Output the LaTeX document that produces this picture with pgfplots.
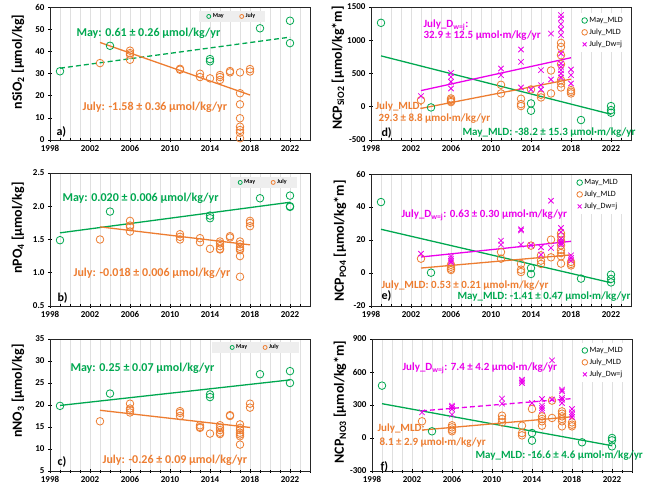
\documentclass[border=0pt]{standalone}
\usepackage{pgfplots}
\pgfplotsset{compat=1.18}
\usepackage{fontspec}
\setmainfont{Carlito}
\definecolor{mygreen}{RGB}{0,168,80}
\definecolor{myorange}{RGB}{237,125,49}
\definecolor{mymag}{RGB}{235,0,235}
\newcommand\annL{\fontsize{12}{14}\selectfont\bfseries}
\newcommand\annR{\fontsize{11}{13}\selectfont\bfseries}
\newcommand\lab{\fontsize{14}{16}\selectfont\bfseries}
\pgfplotsset{
  panel/.style={scale only axis, width=260pt, height=133pt,
    xmin=1998, xmax=2024, xtick={1998,2002,...,2022}, minor xtick={1998,...,2024},
    xmajorgrids, xminorgrids, grid style={gray!25, line width=0.4pt}, minor grid style={gray!25, line width=0.4pt},
    tick align=center, xtick pos=bottom, ytick pos=left,
    major tick length=4pt, minor tick length=3pt,
    tick style={black, line width=0.6pt}, axis line style={black!85, line width=0.7pt},
    ticklabel style={font=\fontsize{9}{10}\selectfont\bfseries},
    /pgf/number format/assume math mode=true, /pgf/number format/1000 sep={},
    clip=false},
  gcirc/.style={only marks, mark=o, mark size=3.8pt, mygreen, mark options={line width=0.8pt}},
  ocirc/.style={only marks, mark=o, mark size=3.8pt, myorange, mark options={line width=0.8pt}},
  mx/.style={only marks, mark=x, mark size=3.8pt, mymag, mark options={line width=0.8pt}},
  legL/.style={legend columns=2, legend style={fill=gray!13, draw=none, font=\fontsize{6}{7}\selectfont\bfseries, inner xsep=8pt, inner ysep=1pt, /tikz/every even column/.append style={column sep=14pt}}, legend image post style={mark size=2pt}},
  legR/.style={legend cell align=left, legend style={draw=none, fill=white, font=\fontsize{8}{9}\selectfont, row sep=1pt, anchor=north east}, legend image post style={mark size=2.8pt}},
  trend/.style={line width=1.3pt, forget plot},
  dsh/.style={dash pattern=on 5pt off 3pt},
}
\begin{document}
\begin{tikzpicture}[x=1pt,y=1pt]
\useasboundingbox (0,0) rectangle (649,488);
% ---------- a ----------
\begin{axis}[panel, at={(50pt,348pt)}, anchor=south west, ymin=0, ymax=60, ytick={0,10,...,60}, legL, legend style={at={(0.70,0.929)}, anchor=center}]
\addplot[gcirc] coordinates {(1999,31)(2004,42.5)(2014,36.5)(2014,35.5)(2019,50.4)(2022,53.8)(2022,43.7)};
\addlegendentry{May}
\addplot[ocirc] coordinates {(2003,34.7)(2006,40.3)(2006,39.2)(2006,38.5)(2006,36.2)(2011,32.1)(2011,31.7)(2013,29.9)(2013,28.4)(2014,27.8)(2015,29.3)(2015,28.4)(2015,27.1)(2016,31.1)(2016,30.5)(2017,30.5)(2017,21.1)(2017,16.1)(2017,9.8)(2017,6)(2017,4.5)(2017,3.3)(2017,0.8)(2018,32)(2018,30.9)};
\addlegendentry{July}
\addplot[mygreen, trend, dsh] coordinates {(1999,32.4)(2022,46.4)};
\addplot[myorange, trend] coordinates {(2003,44.0)(2018,20.3)};
\end{axis}
% ---------- b ----------
\begin{axis}[panel, at={(50pt,182pt)}, anchor=south west, ymin=0.5, ymax=2.5, ytick={0.5,1.0,...,2.5}, yticklabel style={/pgf/number format/fixed, /pgf/number format/fixed zerofill, /pgf/number format/precision=1}, legL, legend style={at={(0.821,0.929)}, anchor=center}]
\addplot[gcirc] coordinates {(1999,1.49)(2004,1.92)(2014,1.86)(2014,1.82)(2019,2.12)(2022,2.16)(2022,2.00)(2022,1.99)};
\addlegendentry{May}
\addplot[ocirc] coordinates {(2003,1.50)(2006,1.78)(2006,1.71)(2006,1.69)(2006,1.62)(2011,1.58)(2011,1.54)(2011,1.50)(2013,1.52)(2013,1.46)(2014,1.36)(2015,1.47)(2015,1.44)(2015,1.40)(2015,1.36)(2015,1.35)(2016,1.55)(2016,1.53)(2017,1.47)(2017,1.43)(2017,1.39)(2017,1.36)(2017,1.34)(2017,1.25)(2017,0.94)(2018,1.78)(2018,1.75)(2018,1.70)};
\addlegendentry{July}
\addplot[mygreen, trend] coordinates {(1999,1.60)(2022,2.06)};
\addplot[myorange, trend] coordinates {(2003,1.69)(2018,1.42)};
\end{axis}
% ---------- c ----------
\begin{axis}[panel, at={(50pt,17pt)}, anchor=south west, height=132pt, ymin=5, ymax=35, ytick={5,10,...,35}, legL, legend style={at={(0.79,0.936)}, anchor=center, inner xsep=18pt}]
\addplot[gcirc] coordinates {(1999,19.8)(2004,22.6)(2014,22.4)(2014,21.8)(2019,27.0)(2022,27.7)(2022,25.0)};
\addlegendentry{May}
\addplot[ocirc] coordinates {(2003,16.3)(2006,20.3)(2006,19.2)(2006,18.8)(2006,18.3)(2011,18.6)(2011,18.2)(2011,17.5)(2013,15.4)(2013,15.0)(2013,14.8)(2014,13.5)(2015,15.4)(2015,14.8)(2015,14.3)(2015,13.7)(2015,13.4)(2016,17.7)(2016,17.5)(2017,15.6)(2017,14.8)(2017,14.3)(2017,13.7)(2017,13.3)(2017,12.9)(2017,11.0)(2018,20.3)(2018,19.4)};
\addlegendentry{July}
\addplot[mygreen, trend] coordinates {(1999,19.9)(2022,25.7)};
\addplot[myorange, trend] coordinates {(2003,18.8)(2018,14.9)};
\end{axis}
% ---------- d ----------
\begin{axis}[panel, at={(371pt,348pt)}, anchor=south west, ymin=-500, ymax=1500, ytick={-500,0,...,1500}, legR, legend style={at={(0.988,0.955)}}]
\addplot[gcirc] coordinates {(1999,1262)(2004,-10)(2014,50)(2014,-60)(2019,-200)(2022,10)(2022,-50)(2022,-90)};
\addlegendentry{May\_MLD}
\addplot[ocirc] coordinates {(2003,100)(2006,125)(2006,105)(2006,85)(2006,70)(2011,330)(2011,200)(2013,120)(2013,40)(2013,10)(2014,260)(2015,180)(2015,140)(2016,545)(2016,200)(2017,960)(2017,900)(2017,775)(2017,640)(2017,400)(2017,350)(2017,290)(2018,250)(2018,225)(2018,200)};
\addlegendentry{July\_MLD}
\addplot[mx] coordinates {(2003,160)(2006,510)(2006,450)(2006,375)(2006,275)(2011,575)(2011,475)(2013,860)(2013,675)(2013,290)(2014,260)(2015,550)(2015,325)(2015,260)(2016,1100)(2016,410)(2017,1378)(2017,1328)(2017,1242)(2017,1162)(2017,1077)(2017,800)(2017,650)(2017,600)(2017,550)(2017,500)(2017,440)(2018,560)(2018,475)(2018,350)};
\addlegendentry{July\_Dw=j}
\addplot[mygreen, trend] coordinates {(1999,765)(2022,-113)};
\addplot[myorange, trend] coordinates {(2003,-25)(2018,415)};
\addplot[mymag, trend] coordinates {(2003,243)(2018,737)};
\end{axis}
% ---------- e ----------
\begin{axis}[panel, at={(371pt,182pt)}, anchor=south west, height=132pt, ymin=-20, ymax=60, ytick={-20,0,...,60}, legR, legend style={at={(0.969,0.992)}}]
\addplot[gcirc] coordinates {(1999,43)(2004,0.2)(2014,3)(2014,-0.6)(2019,-3.4)(2022,-1)(2022,-3.6)(2022,-5.7)};
\addlegendentry{May\_MLD}
\addplot[ocirc] coordinates {(2003,8.7)(2006,5)(2006,3.8)(2006,2.6)(2006,1.8)(2011,12.7)(2011,8.7)(2013,5.5)(2013,2)(2013,0.6)(2014,16.6)(2015,10.7)(2015,7.5)(2015,5.5)(2016,20.2)(2016,9.5)(2017,24)(2017,22.2)(2017,19.6)(2017,16.8)(2017,14.1)(2017,12.1)(2017,10.1)(2017,5.7)(2018,6.7)(2018,5.5)(2018,4.6)};
\addlegendentry{July\_MLD}
\addplot[mx] coordinates {(2003,11.7)(2006,10.1)(2006,8.7)(2006,7.5)(2006,6.5)(2011,19.6)(2011,17.2)(2013,26.5)(2013,25.8)(2013,17.2)(2014,16.8)(2015,15.6)(2015,11.1)(2016,43.8)(2016,15.2)(2017,27.3)(2017,24.8)(2017,20.8)(2017,19.2)(2017,18.2)(2017,17.2)(2018,10.7)(2018,9.1)(2018,7.5)};
\addlegendentry{July\_Dw=j}
\addplot[mygreen, trend] coordinates {(1999,26.5)(2022,-5.9)};
\addplot[myorange, trend] coordinates {(2003,3.0)(2018,11.0)};
\addplot[mymag, trend] coordinates {(2003,9.7)(2018,19.2)};
\end{axis}
% ---------- f ----------
\begin{axis}[panel, at={(372pt,17pt)}, anchor=south west, height=132pt, ymin=-300, ymax=900, ytick={-300,0,...,900}, legR, legend style={at={(0.985,0.97)}}]
\addplot[gcirc] coordinates {(1999,476)(2004,61)(2014,45)(2014,-24)(2019,-39)(2022,0)(2022,-21)(2022,-76)};
\addlegendentry{May\_MLD}
\addplot[ocirc] coordinates {(2003,152)(2006,115)(2006,97)(2006,76)(2006,61)(2011,203)(2011,173)(2011,142)(2013,112)(2013,45)(2013,24)(2014,264)(2015,197)(2015,173)(2015,152)(2015,112)(2016,340)(2016,182)(2017,242)(2017,221)(2017,197)(2017,173)(2017,152)(2017,106)(2018,142)(2018,121)(2018,106)};
\addlegendentry{July\_MLD}
\addplot[mx] coordinates {(2003,233)(2006,294)(2006,282)(2006,264)(2006,212)(2011,358)(2011,312)(2013,530)(2013,515)(2013,500)(2014,318)(2015,354)(2015,294)(2015,273)(2015,251)(2016,706)(2016,350)(2017,440)(2017,425)(2017,364)(2017,348)(2017,318)(2018,264)(2018,233)(2018,212)(2018,191)};
\addlegendentry{July\_Dw=j}
\addplot[mygreen, trend] coordinates {(1999,312)(2022,-70)};
\addplot[myorange, trend] coordinates {(2003,72)(2018,193)};
\addplot[mymag, trend, dsh] coordinates {(2003,247)(2018,358)};
\end{axis}
% ---------- y labels ----------
\node[rotate=90, font=\lab] at (18,426) {nSiO\textsubscript{2} [µmol/kg]};
\node[rotate=90, font=\lab] at (18,260) {nPO\textsubscript{4} [µmol/kg]};
\node[rotate=90, font=\lab] at (18,97) {nNO\textsubscript{3} [µmol/kg]};
\node[rotate=90, font=\lab] at (338,420) {NCP\textsubscript{SiO2} [µmol/kg*m]};
\node[rotate=90, font=\lab] at (340,247) {NCP\textsubscript{PO4} [µmol/kg*m]};
\node[rotate=90, font=\lab] at (340,86) {NCP\textsubscript{NO3} [µmol/kg*m]};
% ---------- annotations ----------
\node[anchor=west, font=\annL, text=mygreen] at (73,455) {May: 0.61 ± 0.26 µmol/kg/yr};
\node[anchor=west, font=\annL, text=myorange] at (79,381) {July: -1.58 ± 0.36 µmol/kg/yr};
\node[anchor=west, font=\annL] at (53,356) {a)};
\node[anchor=west, font=\annL, text=mygreen] at (59,290) {May: 0.020 ± 0.006 µmol/kg/yr};
\node[anchor=west, font=\annL, text=myorange] at (70,215) {July: -0.018 ± 0.006 µmol/kg/yr};
\node[anchor=west, font=\annL] at (54,190) {b)};
\node[anchor=west, font=\annL, text=mygreen] at (67,120) {May: 0.25 ± 0.07 µmol/kg/yr};
\node[anchor=west, font=\annL, text=myorange] at (99,28) {July: -0.26 ± 0.09 µmol/kg/yr};
\node[anchor=west, font=\annL] at (54,26) {c)};
\node[anchor=west, font=\annR, text=mymag] at (420,463) {July\_D\textsubscript{w=j}:};
\node[anchor=west, font=\annR, text=mymag] at (420,452) {32.9 ± 12.5 µmol·m/kg/yr};
\node[anchor=west, font=\annR, text=myorange] at (372,381) {July\_MLD:};
\node[anchor=west, font=\annR, text=myorange] at (375,369) {29.3 ± 8.8 µmol·m/kg/yr};
\node[anchor=west, font=\annR, text=mygreen] at (459,355) {May\_MLD: -38.2 ± 15.3 µmol·m/kg/yr};
\node[anchor=west, font=\annL] at (378,355) {d)};
\node[anchor=west, font=\annR, text=mymag] at (398,273) {July\_D\textsubscript{w=j}: 0.63 ± 0.30 µmol·m/kg/yr};
\node[anchor=west, font=\annR, text=myorange] at (378,202) {July\_MLD: 0.53 ± 0.21 µmol·m/kg/yr};
\node[anchor=west, font=\annR, text=mygreen] at (454,191) {May\_MLD: -1.41 ± 0.47 µmol·m/kg/yr};
\node[anchor=west, font=\annL] at (378,192) {e)};
\node[anchor=west, font=\annR, text=mymag] at (399,120) {July\_D\textsubscript{w=j}: 7.4 ± 4.2 µmol·m/kg/yr};
\node[anchor=west, font=\annR, text=myorange] at (374,59) {July\_MLD:};
\node[anchor=west, font=\annR, text=myorange] at (376,45) {8.1 ± 2.9 µmol·m/kg/yr};
\node[anchor=west, font=\annR, text=mygreen] at (472,32) {May\_MLD: -16.6 ± 4.6 µmol·m/kg/yr};
\node[anchor=west, font=\annL] at (377,21) {f)};
\end{tikzpicture}
\end{document}
